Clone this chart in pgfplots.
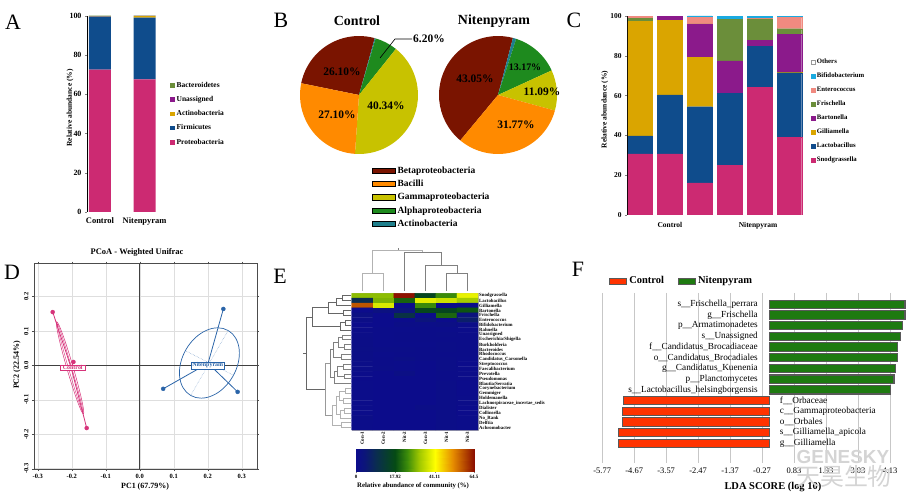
\documentclass[border=0pt]{standalone}
\usepackage{fontspec}
\setmainfont{Liberation Serif}
\newfontfamily\cjk{Noto Sans CJK SC}
\newfontfamily\wmsans{Liberation Sans}
\usepackage{pgfplots}
\pgfplotsset{compat=1.18}

\newcommand\fs[1]{\fontsize{#1}{#1}\selectfont}

% phyla / classes / genera
\definecolor{proteo}{HTML}{CC2A72}
\definecolor{firmi}{HTML}{0F4C8C}
\definecolor{actino}{HTML}{DAA500}
\definecolor{unass}{HTML}{8B1A8B}
\definecolor{bactero}{HTML}{6B8E3A}
\definecolor{beta}{HTML}{7A1400}
\definecolor{bacilli}{HTML}{FF8A00}
\definecolor{gamma}{HTML}{C8C200}
\definecolor{alpha}{HTML}{1E8A1E}
\definecolor{actb}{HTML}{1E7F8C}
\definecolor{bifido}{HTML}{1AAAE0}
\definecolor{entero}{HTML}{F08A80}
\definecolor{pcoaR}{HTML}{D6337A}
\definecolor{pcoaB}{HTML}{2A64A8}
\definecolor{ldaR}{HTML}{FF3300}
\definecolor{ldaG}{HTML}{1E7A10}

\pgfplotsset{
  colormap={hm}{rgb255(0pt)=(12,12,140) rgb255(4pt)=(12,22,120) rgb255(9pt)=(10,45,80)
    rgb255(17.92pt)=(5,75,20) rgb255(25pt)=(60,140,10) rgb255(32pt)=(160,200,0)
    rgb255(41.11pt)=(255,255,0) rgb255(52pt)=(230,140,0) rgb255(64.5pt)=(140,15,0)},
  colormap={hmu}{rgb255(0pt)=(12,12,140) rgb255(0.223pt)=(12,22,120) rgb255(0.502pt)=(10,45,80)
    rgb255(1pt)=(5,75,20) rgb255(1.305pt)=(60,140,10) rgb255(1.607pt)=(160,200,0)
    rgb255(2pt)=(255,255,0) rgb255(2.466pt)=(230,140,0) rgb255(3pt)=(140,15,0)},
}

% pie from a value/colour list, clockwise from a start angle
\newcommand\pie[4]{%
  \def\ang{#3}%
  \foreach \v/\c in {#4}{%
    \pgfmathsetmacro\endang{\ang-3.6*\v}%
    \fill[\c] (axis cs:#1,#2) -- ++(\ang:59bp) arc[start angle=\ang, end angle=\endang, radius=59bp] -- cycle;
    \global\let\ang\endang
  }%
}
% dendrogram joins
\newcommand\rowjoin[6][black!60]{\addplot[#1, line width=0.5bp] coordinates {(#2,#3) (#4,#3) (#4,#6) (#5,#6)};}
\newcommand\coljoin[6][black!50]{\addplot[#1, line width=0.6bp] coordinates {(#2,#3) (#2,#4) (#5,#4) (#5,#6)};}

\begin{document}
\begin{tikzpicture}
\useasboundingbox (0bp,0bp) rectangle (915bp,498bp);

% panel letters
\node[font=\fs{22}] at (13bp,476bp) {A};
\node[font=\fs{22}] at (281bp,478bp) {B};
\node[font=\fs{22}] at (574bp,478bp) {C};
\node[font=\fs{22}] at (12bp,226bp) {D};
\node[font=\fs{22}] at (280bp,222bp) {E};
\node[font=\fs{22}] at (578bp,229bp) {F};

% ---------------- A ----------------
\begin{axis}[at={(87bp,286bp)}, anchor=south west, scale only axis, width=71bp, height=196.3bp,
  ybar stacked, bar width=22bp,
  xmin=-0.29, xmax=1.3, ymin=0, ymax=100,
  axis x line*=bottom, axis y line*=left, axis line style={-}, x axis line style={draw=none},
  xtick={0,1}, xticklabels={Control,Nitenpyram}, major x tick style={draw=none},
  ytick={0,20,...,100}, tick align=outside, major tick length=2bp,
  /pgf/number format/assume math mode=true,
  ticklabel style={font=\bfseries\fs{8}}, xticklabel style={font=\bfseries\fs{8.5}},
  ylabel={Relative abundance (\%)}, ylabel style={font=\bfseries\fs{7.5}, at={(axis description cs:-0.24,0.53)}, anchor=center},
  legend image code/.code={\fill[#1] (0bp,-2.2bp) rectangle (4.4bp,2.2bp);},
  reverse legend,
  legend style={at={(1.17,0.50)}, anchor=west, draw=none, fill=none, font=\bfseries\fs{7.5}, row sep=3.6bp, cells={anchor=west}, inner sep=0pt},
  ]
\addplot[fill=proteo, draw=none] coordinates {(0,72.5) (1,67.5)};
\addplot[fill=firmi, draw=none] coordinates {(0,27.0) (1,31.5)};
\addplot[fill=actino, draw=none] coordinates {(0,0.2) (1,0.8)};
\addplot[fill=unass, draw=none] coordinates {(0,0.1) (1,0.1)};
\addplot[fill=bactero, draw=none] coordinates {(0,0.2) (1,0.1)};
\legend{Proteobacteria,Firmicutes,Actinobacteria,Unassigned,Bacteroidetes}
\end{axis}

% ---------------- B ----------------
\begin{axis}[at={(290bp,338bp)}, anchor=south west, scale only axis, width=280bp, height=130bp,
  xmin=290, xmax=570, ymin=338, ymax=468, hide axis, clip=false,
  legend image code/.code={\fill[#1] (0bp,-2.6bp) rectangle (23bp,2.6bp);},
  legend style={at={(0.293,-0.035)}, anchor=north west, draw=none, fill=none, font=\bfseries\fs{9.5}, row sep=1.2bp, cells={anchor=west}, inner sep=0pt},
  ]
\addlegendimage{fill=beta}\addlegendentry{Betaproteobacteria}
\addlegendimage{fill=bacilli}\addlegendentry{Bacilli}
\addlegendimage{fill=gamma}\addlegendentry{Gammaproteobacteria}
\addlegendimage{fill=alpha}\addlegendentry{Alphaproteobacteria}
\addlegendimage{fill=actb}\addlegendentry{Actinobacteria}
\pgfplotsextra{%
  \pie{359}{403}{168.5}{26.10/beta,0.26/actb,6.20/alpha,40.34/gamma,27.10/bacilli}%
  \pie{498}{403}{230.3}{43.05/beta,0.92/actb,13.17/alpha,11.09/gamma,31.77/bacilli}%
}
\end{axis}
\node[font=\bfseries\fs{14}] at (357bp,477bp) {Control};
\node[font=\bfseries\fs{14}] at (494bp,477bp) {Nitenpyram};
\begin{scope}[font=\bfseries\fs{11.5}]
\node at (342bp,426bp) {26.10\%};
\node at (337bp,383bp) {27.10\%};
\node at (386bp,392bp) {40.34\%};
\node[anchor=west, inner sep=0pt] at (413bp,459bp) {6.20\%};
\node at (475bp,419bp) {43.05\%};
\node[font=\bfseries\fs{10}] at (525bp,431bp) {13.17\%};
\node at (542bp,406bp) {11.09\%};
\node at (516bp,373bp) {31.77\%};
\end{scope}
\draw[black, line width=0.6bp] (380bp,440bp) -- (395bp,459bp) -- (412bp,459bp);

% ---------------- C ----------------
\begin{axis}[at={(627bp,283bp)}, anchor=south west, scale only axis, width=178bp, height=199bp,
  ybar stacked, bar width=24.5bp,
  xmin=-0.435, xmax=5.52, ymin=0, ymax=100,
  axis x line*=bottom, axis y line*=left, axis line style={-}, x axis line style={draw=none},
  xtick={1,3.95}, xticklabels={Control,Nitenpyram}, major x tick style={draw=none},
  ytick={0,20,...,100}, tick align=outside, major tick length=2bp,
  /pgf/number format/assume math mode=true,
  ticklabel style={font=\bfseries\fs{7.5}}, xticklabel style={yshift=-2bp},
  ylabel={Relative abundance (\%)}, ylabel style={font=\bfseries\fs{7.5}, at={(axis description cs:-0.124,0.53)}, anchor=center},
  legend image code/.code={\filldraw[#1] (0bp,-2bp) rectangle (4bp,2bp);},
  reverse legend,
  legend style={at={(1.03,0.523)}, anchor=west, draw=none, fill=none, font=\bfseries\fs{6.8}, row sep=3.9bp, cells={anchor=west}, inner sep=0pt},
  ]
\addplot[fill=proteo, draw=proteo] coordinates {(0,30.7) (1,30.7) (2,16.1) (3,24.8) (4,64.2) (5,38.9)};
\addplot[fill=firmi, draw=firmi] coordinates {(0,9.0) (1,29.6) (2,38.3) (3,36.3) (4,20.4) (5,32.6)};
\addplot[fill=actino, draw=actino] coordinates {(0,57.5) (1,37.4) (2,24.8) (3,0.2) (4,0.1) (5,0.3)};
\addplot[fill=unass, draw=unass] coordinates {(0,0.0) (1,2.1) (2,16.6) (3,16.1) (4,3.2) (5,19.0)};
\addplot[fill=bactero, draw=bactero] coordinates {(0,1.6) (1,0.0) (2,0.3) (3,20.9) (4,10.6) (5,2.8)};
\addplot[fill=entero, draw=entero] coordinates {(0,1.0) (1,0.0) (2,3.1) (3,0.1) (4,0.2) (5,5.7)};
\addplot[fill=bifido, draw=bifido] coordinates {(0,0.0) (1,0.0) (2,0.8) (3,1.3) (4,1.0) (5,0.5)};
\addplot[fill=white, draw=black!40] coordinates {(0,0.2) (1,0.2) (2,0.0) (3,0.3) (4,0.3) (5,0.2)};
\legend{Snodgrassella,Lactobacillus,Gilliamella,Bartonella,Frischella,Enterococcus,Bifidobacterium,Others}
\end{axis}

% ---------------- D ----------------
\begin{axis}[at={(34bp,29bp)}, anchor=south west, scale only axis, width=223bp, height=205.5bp,
  xmin=-0.311, xmax=0.345, ymin=-0.301, ymax=0.296,
  xtick={-0.3,-0.2,-0.1,0,0.1,0.2,0.3}, xticklabels={-0.3,-0.2,-0.1,0.0,0.1,0.2,0.3},
  ytick={-0.3,-0.2,-0.1,0,0.1,0.2}, yticklabels={-0.3,-0.2,-0.1,0.0,0.1,0.2},
  grid=major, grid style={black!13, line width=0.4bp},
  axis line style={black!70, line width=0.6bp}, tick style={black!70},
  tick align=outside, major tick length=2bp,
  ticklabel style={font=\bfseries\fs{6.5}},
  yticklabel style={rotate=90, anchor=south},
  title={PCoA - Weighted Unifrac}, title style={font=\bfseries\fs{8.5}, at={(axis description cs:0.462,1)}, anchor=south, inner sep=1bp},
  xlabel={PC1 (67.79\%)}, xlabel style={font=\bfseries\fs{8}, at={(axis description cs:0.498,-0.088)}, anchor=center},
  ylabel={PC2 (22.54\%)}, ylabel style={font=\bfseries\fs{8}, at={(axis description cs:-0.076,0.506)}, anchor=center},
  ]
\addplot[black!75, line width=0.6bp, forget plot] coordinates {(0,-0.301) (0,0.296)};
\addplot[black!75, line width=0.6bp, forget plot] coordinates {(-0.311,0) (0.345,0)};
% Control group
\draw[pcoaR, line width=0.5bp, rotate around={-73.8:(axis cs:-0.205,-0.007)}] (axis cs:-0.205,-0.007) ellipse [x radius=48bp, y radius=3.2bp];
\draw[pcoaR, line width=0.4bp, rotate around={-73.8:(axis cs:-0.205,-0.007)}] (axis cs:-0.205,-0.007) ellipse [x radius=46bp, y radius=1.6bp];
\addplot[pcoaR, line width=0.8bp, unbounded coords=jump] coordinates {(-0.202,-0.006) (-0.256,0.155) (nan,nan) (-0.202,-0.006) (-0.195,0.010) (nan,nan) (-0.202,-0.006) (-0.156,-0.182)};
\addplot[only marks, mark=*, mark size=2bp, pcoaR] coordinates {(-0.256,0.155) (-0.195,0.010) (-0.156,-0.182)};
% Nitenpyram group
\draw[pcoaB, line width=0.7bp, rotate around={60:(axis cs:0.205,0.007)}] (axis cs:0.205,0.007) ellipse [x radius=37.5bp, y radius=27bp];
\draw[pcoaB!60, densely dotted, line width=0.5bp] (axis cs:0.205,0.007) ++(60:37.5bp) -- ++(240:75bp);
\draw[pcoaB!60, densely dotted, line width=0.5bp] (axis cs:0.205,0.007) ++(-27:27bp) -- ++(153:54bp);
\addplot[pcoaB, line width=0.8bp, unbounded coords=jump] coordinates {(0.201,0.006) (0.246,0.164) (nan,nan) (0.201,0.006) (0.069,-0.068) (nan,nan) (0.201,0.006) (0.288,-0.077)};
\addplot[only marks, mark=*, mark size=2bp, pcoaB] coordinates {(0.246,0.164) (0.069,-0.068) (0.288,-0.077)};
\node[draw=pcoaR, fill=white, text=pcoaR, font=\bfseries\fs{6}, inner xsep=2.5bp, inner ysep=0.6bp] at (axis cs:-0.197,-0.006) {Control};
\node[draw=pcoaB, fill=white, text=pcoaB, font=\bfseries\fs{6}, inner xsep=1.5bp, inner ysep=0.6bp] at (axis cs:0.200,0.0) {Nitenpyram};
\end{axis}

% ---------------- E ----------------
\begin{axis}[at={(351.7bp,68bp)}, anchor=south west, scale only axis, width=126.3bp, height=136.7bp,
  xmin=0.5, xmax=6.5, ymin=0.5, ymax=28.5, y dir=reverse, enlargelimits=false,
  axis line style={black!30, line width=0.3bp},
  colormap name=hm, point meta min=0, point meta max=64.5,
  ytick={1,...,28}, yticklabel pos=right, major tick length=0pt,
  yticklabels={Snodgrassella,Lactobacillus,Gilliamella,Bartonella,Frischella,Enterococcus,Bifidobacterium,Rahnella,Unassigned,Escherichia/Shigella,Burkholderia,Bacteroides,Rhodococcus,Candidatus\_Carsonella,Streptococcus,Faecalibacterium,Prevotella,Pseudomonas,Blautia/Serratia,Corynebacterium,Gemmiger,Holdemanella,Lachnospiraceae\_incertae\_sedis,Dialister,Collinsella,No\_Rank,Delftia,Achromobacter},
  yticklabel style={font=\bfseries\fs{4.8}, inner sep=1bp},
  xtick={1,...,6}, xticklabels={Con-1,Con-2,Nit-2,Con-3,Nit-1,Nit-3},
  xticklabel style={rotate=90, anchor=east, font=\bfseries\fs{5}, inner sep=1.5bp},
  ]
\addplot[matrix plot*, mesh/cols=6, point meta=explicit] coordinates {
(1,1)[30.7] (2,1)[30.7] (3,1)[64.2] (4,1)[16.1] (5,1)[24.8] (6,1)[38.9]
(1,2)[9.0] (2,2)[29.6] (3,2)[20.4] (4,2)[38.3] (5,2)[36.3] (6,2)[32.6]
(1,3)[57.5] (2,3)[37.4] (3,3)[0.1] (4,3)[24.8] (5,3)[0.2] (6,3)[0.3]
(1,4)[0.0] (2,4)[2.1] (3,4)[3.2] (4,4)[16.6] (5,4)[16.1] (6,4)[19.0]
(1,5)[1.6] (2,5)[0.0] (3,5)[10.6] (4,5)[0.3] (5,5)[20.9] (6,5)[2.8]
(1,6)[1.0] (2,6)[0.0] (3,6)[0.2] (4,6)[3.1] (5,6)[0.1] (6,6)[5.7]
(1,7)[0.0] (2,7)[0.0] (3,7)[1.0] (4,7)[0.8] (5,7)[1.3] (6,7)[0.5]
(1,8)[0.5] (2,8)[0.3] (3,8)[0.4] (4,8)[0.5] (5,8)[0.3] (6,8)[0.4]
(1,9)[0.8] (2,9)[0.4] (3,9)[0.6] (4,9)[0.5] (5,9)[0.7] (6,9)[0.6]
(1,10)[0.9] (2,10)[0.3] (3,10)[0.5] (4,10)[0.6] (5,10)[0.6] (6,10)[0.5]
(1,11)[1.0] (2,11)[0.4] (3,11)[0.4] (4,11)[0.4] (5,11)[0.7] (6,11)[0.5]
(1,12)[1.1] (2,12)[0.8] (3,12)[0.7] (4,12)[0.6] (5,12)[0.8] (6,12)[0.6]
(1,13)[0.9] (2,13)[0.4] (3,13)[0.5] (4,13)[0.5] (5,13)[0.6] (6,13)[0.5]
(1,14)[1.0] (2,14)[0.6] (3,14)[1.1] (4,14)[0.5] (5,14)[0.8] (6,14)[0.4]
(1,15)[0.7] (2,15)[0.5] (3,15)[0.3] (4,15)[0.2] (5,15)[0.7] (6,15)[0.2]
(1,16)[0.8] (2,16)[0.7] (3,16)[0.3] (4,16)[0.2] (5,16)[0.7] (6,16)[0.3]
(1,17)[0.3] (2,17)[0.2] (3,17)[1.4] (4,17)[0.2] (5,17)[0.6] (6,17)[0.5]
(1,18)[0.2] (2,18)[0.2] (3,18)[0.2] (4,18)[0.2] (5,18)[0.6] (6,18)[0.4]
(1,19)[0.3] (2,19)[0.2] (3,19)[0.2] (4,19)[0.2] (5,19)[0.7] (6,19)[0.2]
(1,20)[0.3] (2,20)[0.2] (3,20)[0.2] (4,20)[0.2] (5,20)[0.8] (6,20)[0.1]
(1,21)[0.3] (2,21)[0.2] (3,21)[0.2] (4,21)[0.2] (5,21)[0.8] (6,21)[0.1]
(1,22)[0.3] (2,22)[0.2] (3,22)[0.2] (4,22)[0.2] (5,22)[0.8] (6,22)[0.3]
(1,23)[0.3] (2,23)[0.2] (3,23)[0.2] (4,23)[0.2] (5,23)[0.8] (6,23)[0.5]
(1,24)[0.3] (2,24)[0.2] (3,24)[0.2] (4,24)[0.9] (5,24)[0.8] (6,24)[0.2]
(1,25)[0.3] (2,25)[0.2] (3,25)[0.2] (4,25)[0.2] (5,25)[0.8] (6,25)[0.1]
(1,26)[0.9] (2,26)[0.2] (3,26)[0.2] (4,26)[0.2] (5,26)[0.8] (6,26)[0.3]
(1,27)[0.3] (2,27)[0.2] (3,27)[0.2] (4,27)[0.2] (5,27)[0.8] (6,27)[0.3]
(1,28)[0.3] (2,28)[0.2] (3,28)[0.2] (4,28)[0.2] (5,28)[0.8] (6,28)[0.3]
};
\end{axis}
% column dendrogram
\begin{axis}[at={(351.7bp,207bp)}, anchor=south west, scale only axis, width=126.3bp, height=41bp,
  xmin=0.5, xmax=6.5, ymin=0, ymax=41, hide axis, clip=false]
\coljoin[black!30]{1}{0}{18}{2}{0}
\coljoin{5}{0}{17.5}{6}{0}
\coljoin{4}{0}{26}{5.5}{17.5}
\coljoin{3}{0}{38.5}{4.75}{26}
\coljoin[black!30]{1.5}{18}{41}{3.875}{38.5}
\addplot[black!50, line width=0.6bp] coordinates {(2.69,41) (2.69,43)};
\end{axis}
% row dendrogram
\begin{axis}[at={(304bp,68bp)}, anchor=south west, scale only axis, width=47.7bp, height=136.7bp,
  xmin=304, xmax=351.7, ymin=0.5, ymax=28.5, y dir=reverse, hide axis, clip=false]
\rowjoin{351}{1}{342}{351}{2}
\rowjoin{342}{1.5}{336}{351}{3}
\rowjoin{351}{4}{343}{351}{5}
\rowjoin{336}{2.25}{328}{343}{4.5}
\rowjoin{351}{6}{345}{351}{7}
\rowjoin{345}{6.5}{340}{351}{8}
\rowjoin{328}{3.375}{312}{340}{7.25}
\rowjoin[black!50]{351}{9}{342}{351}{10}
\rowjoin[black!50]{351}{11}{344}{351}{12}
\rowjoin[black!50]{342}{9.5}{338}{344}{11.5}
\rowjoin[black!50]{351}{13}{341}{351}{14}
\rowjoin[black!50]{338}{10.5}{333}{341}{13.5}
\rowjoin[black!50]{351}{15}{343}{351}{16}
\rowjoin[black!50]{351}{17}{344}{351}{18}
\rowjoin[black!50]{343}{15.5}{337}{344}{17.5}
\rowjoin[black!50]{337}{16.5}{334}{351}{19}
\rowjoin[black!50]{333}{12}{330}{334}{17.75}
\rowjoin[black!30]{351}{20}{345}{351}{21}
\rowjoin[black!30]{351}{22}{343}{351}{23}
\rowjoin[black!30]{345}{20.5}{339}{343}{22.5}
\rowjoin[black!30]{351}{24}{344}{351}{25}
\rowjoin[black!30]{344}{24.5}{340}{351}{26}
\rowjoin[black!30]{339}{21.5}{336}{340}{25.25}
\rowjoin[black!30]{351}{27}{341}{351}{28}
\rowjoin[black!30]{336}{23.375}{332}{341}{27.5}
\rowjoin[black!40]{330}{14.875}{325}{332}{25.4375}
\rowjoin{312}{5.3125}{306}{325}{20.156}
\addplot[black!60, line width=0.5bp] coordinates {(306,12.73) (303,12.73)};
\end{axis}
% colour bar
\begin{axis}[at={(356bp,26bp)}, anchor=south west, scale only axis, width=118bp, height=23bp,
  xmin=0, xmax=3, ymin=0, ymax=1, axis line style={draw=none},
  colormap name=hmu, point meta min=0, point meta max=3,
  xtick={0,1,2,3}, xticklabels={0,17.92,41.11,64.5}, ytick=\empty,
  tick align=outside, major tick length=1.5bp, xtick pos=bottom,
  xticklabel style={font=\bfseries\fs{5}, inner sep=1.5bp},
  xlabel={Relative abundance of community (\%)}, xlabel style={font=\bfseries\fs{6.8}, at={(axis description cs:0.483,-0.61)}, anchor=center},
  ]
\addplot[surf, shader=interp, point meta=x, mesh/cols=7] coordinates {
(0,0) (0.5,0) (1,0) (1.5,0) (2,0) (2.5,0) (3,0)
(0,1) (0.5,1) (1,1) (1.5,1) (2,1) (2.5,1) (3,1)};
\end{axis}

% ---------------- F ----------------
\begin{axis}[at={(590bp,35bp)}, anchor=south west, scale only axis, width=322bp, height=170bp,
  xbar, bar width=8.3bp,
  xmin=-6.19, xmax=4.89, ymin=-0.057, ymax=15.84, y dir=reverse,
  axis line style={draw=none}, ytick=\empty,
  xtick={-5.77,-4.67,-3.57,-2.47,-1.37,-0.27,0.83,1.93,3.03,4.13},
  xticklabels={-5.77,-4.67,-3.57,-2.47,-1.37,-0.27,0.83,1.93,3.03,4.13},
  xmajorgrids, grid style={black!22, line width=0.6bp}, major tick length=0pt,
  xticklabel style={font=\fs{8.5}, yshift=-1.5bp},
  xlabel={LDA SCORE (log 10)}, xlabel style={font=\bfseries\fs{10.5}, at={(axis description cs:0.568,-0.141)}, anchor=center},
  legend image code/.code={\filldraw[#1] (0bp,-3bp) rectangle (17bp,3bp);},
  legend columns=2,
  legend style={at={(0.059,1.07)}, anchor=west, draw=none, fill=none, font=\bfseries\fs{10.5}, inner sep=0pt,
    /tikz/every even column/.append style={column sep=12bp}},
  ]
\addplot[fill=ldaR, draw=black!65, line width=1.1bp, bar shift=0pt] coordinates {(-5.04,10) (-5.07,11) (-5.07,12) (-5.20,13) (-5.22,14)};
\addplot[fill=ldaG, draw=black!65, line width=1.1bp, bar shift=0pt] coordinates {(4.65,1) (4.65,2) (4.56,3) (4.50,4) (4.39,5) (4.39,6) (4.32,7) (4.27,8) (4.16,9)};
\legend{Control,Nitenpyram}
\begin{scope}[font=\fs{9.3}]
\node[anchor=east, inner sep=0pt] at (axis cs:-0.41,1) {s\_\_Frischella\_perrara};
\node[anchor=east, inner sep=0pt] at (axis cs:-0.41,2) {g\_\_Frischella};
\node[anchor=east, inner sep=0pt] at (axis cs:-0.41,3) {p\_\_Armatimonadetes};
\node[anchor=east, inner sep=0pt] at (axis cs:-0.41,4) {s\_\_Unassigned};
\node[anchor=east, inner sep=0pt] at (axis cs:-0.41,5) {f\_\_Candidatus\_Brocadiaceae};
\node[anchor=east, inner sep=0pt] at (axis cs:-0.41,6) {o\_\_Candidatus\_Brocadiales};
\node[anchor=east, inner sep=0pt] at (axis cs:-0.41,7) {g\_\_Candidatus\_Kuenenia};
\node[anchor=east, inner sep=0pt] at (axis cs:-0.41,8) {p\_\_Planctomycetes};
\node[anchor=east, inner sep=0pt] at (axis cs:-0.41,9) {s\_\_Lactobacillus\_helsingborgensis};
\node[anchor=west, inner sep=0pt] at (axis cs:0.34,10) {f\_\_Orbaceae};
\node[anchor=west, inner sep=0pt] at (axis cs:0.34,11) {c\_\_Gammaproteobacteria};
\node[anchor=west, inner sep=0pt] at (axis cs:0.34,12) {o\_\_Orbales};
\node[anchor=west, inner sep=0pt] at (axis cs:0.34,13) {s\_\_Gilliamella\_apicola};
\node[anchor=west, inner sep=0pt] at (axis cs:0.34,14) {g\_\_Gilliamella};
\end{scope}
\end{axis}
% watermark
\node[text=black!17, font=\wmsans\bfseries\fs{19}] at (843bp,41.5bp) {GENESKY};
\node[text=black!17, font=\cjk\fs{24}] at (844bp,21.5bp) {天昊生物};
\end{tikzpicture}
\end{document}
